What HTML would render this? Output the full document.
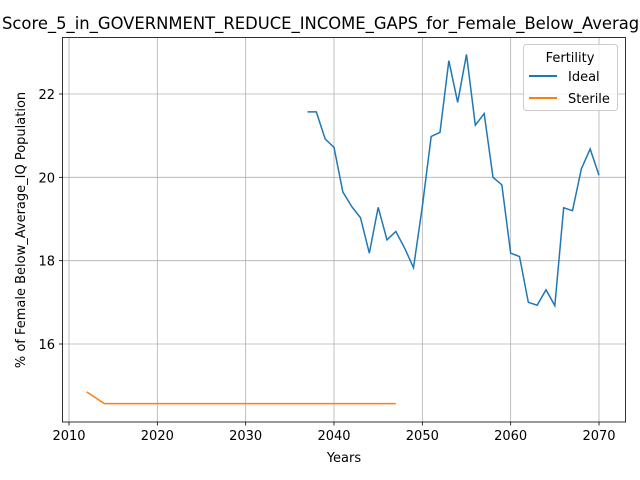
<!DOCTYPE html>
<html><head><meta charset="utf-8"><style>
body{margin:0;background:#fff;}
svg{display:block;font-family:"DejaVu Sans","Liberation Sans",sans-serif;}
</style></head><body>
<svg id="chart" width="640" height="480" viewBox="0 0 640 480">
<rect x="0" y="0" width="640" height="480" fill="#fff"/>
<g id="grid"></g>
<g id="series"></g>
<rect x="62.5" y="37.5" width="563" height="384.5" fill="none" stroke="#000" stroke-width="0.8"/>
<g id="ticks"></g>
<text x="2" y="29" text-anchor="start" font-size="16.4" fill="#000">Score_5_in_GOVERNMENT_REDUCE_INCOME_GAPS_for_Female_Below_Average_IQ_Population</text>
<text x="344" y="462" text-anchor="middle" font-size="13">Years</text>
<text x="0" y="0" transform="translate(25,230) rotate(-90)" text-anchor="middle" font-size="13">% of Female Below_Average_IQ Population</text>
<g>
<rect x="523.5" y="44.5" width="94" height="66" rx="3" fill="#fff" fill-opacity="0.8" stroke="#ccc"/>
<text x="570" y="62" text-anchor="middle" font-size="13">Fertility</text>
<line x1="529" y1="76" x2="557" y2="76" stroke="#1f77b4" stroke-width="2"/>
<text x="568" y="81" font-size="13">Ideal</text>
<line x1="529" y1="98" x2="557" y2="98" stroke="#ff7f0e" stroke-width="2"/>
<text x="568" y="103" font-size="13">Sterile</text>
</g>
</svg>
<script>
const idealYears=[2037,2038,2039,2040,2041,2042,2043,2044,2045,2046,2047,2048,2049,2050,2051,2052,2053,2054,2055,2056,2057,2058,2059,2060,2061,2062,2063,2064,2065,2066,2067,2068,2069,2070];
const idealValues=[21.57,21.57,20.92,20.72,19.65,19.3,19.03,18.18,19.28,18.5,18.7,18.3,17.83,19.3,20.98,21.08,22.8,21.8,22.95,21.25,21.53,20.0,19.82,18.18,18.1,17.0,16.93,17.3,16.92,19.27,19.2,20.2,20.68,20.05];
const sterileYears=[2012,2013,2014,2015,2016,2017,2018,2019,2020,2021,2022,2023,2024,2025,2026,2027,2028,2029,2030,2031,2032,2033,2034,2035,2036,2037,2038,2039,2040,2041,2042,2043,2044,2045,2046,2047];
const sterileValues=[14.85,14.71,14.57,14.57,14.57,14.57,14.57,14.57,14.57,14.57,14.57,14.57,14.57,14.57,14.57,14.57,14.57,14.57,14.57,14.57,14.57,14.57,14.57,14.57,14.57,14.57,14.57,14.57,14.57,14.57,14.57,14.57,14.57,14.57,14.57,14.57];
const xTicks=[2010,2020,2030,2040,2050,2060,2070];
const yTicks=[16,18,20,22];
const NS="http://www.w3.org/2000/svg";
const X=v=>69+(v-2010)*(530/60);
const Y=v=>344-(v-16)*(250/6);
function mk(tag,attrs,parent){const e=document.createElementNS(NS,tag);for(const k in attrs)e.setAttribute(k,attrs[k]);document.getElementById(parent).appendChild(e);return e;}
xTicks.forEach(t=>{
 const g=mk('line',{x1:X(t),x2:X(t),y1:37.5,y2:422,stroke:'#b0b0b0','stroke-width':0.8},'grid');
 
 
 mk('line',{x1:X(t),x2:X(t),y1:422,y2:425.5,stroke:'#000','stroke-width':0.8},'ticks');
 const l=mk('text',{x:X(t),y:440,'text-anchor':'middle','font-size':13},'ticks');
 l.textContent=t;
 
 
});
yTicks.forEach(t=>{
 const g=mk('line',{x1:62.5,x2:625.5,y1:Y(t),y2:Y(t),stroke:'#b0b0b0','stroke-width':0.8},'grid');
 
 
 mk('line',{x1:59,x2:62.5,y1:Y(t),y2:Y(t),stroke:'#000','stroke-width':0.8},'ticks');
 const l=mk('text',{x:55,y:Y(t)+5,'text-anchor':'end','font-size':13},'ticks');
 l.textContent=t;
 
 
});
const ideal=mk('polyline',{points:idealYears.map((y,i)=>X(y)+','+Y(idealValues[i])).join(' '),fill:'none',stroke:'#1f77b4','stroke-width':1.5},'series');


const sterile=mk('polyline',{points:sterileYears.map((y,i)=>X(y)+','+Y(sterileValues[i])).join(' '),fill:'none',stroke:'#ff7f0e','stroke-width':1.5},'series');


</script>
</body></html>
